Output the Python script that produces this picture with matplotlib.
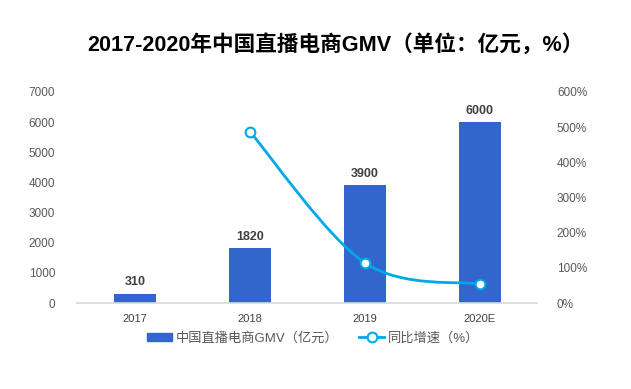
import matplotlib
matplotlib.use("Agg")
import matplotlib.pyplot as plt
from matplotlib.path import Path
from matplotlib.patches import PathPatch, Rectangle
from matplotlib.lines import Line2D
import numpy as np

plt.rcParams['font.family'] = ['Liberation Sans', 'Noto Sans CJK SC', 'DejaVu Sans']

categories = ['2017', '2018', '2019', '2020E']
gmv = [310, 1820, 3900, 6000]
growth_cats = ['2018', '2019', '2020E']
growth = [487, 114, 54]
left_ticks = [0, 1000, 2000, 3000, 4000, 5000, 6000, 7000]
right_ticks = [0, 100, 200, 300, 400, 500, 600]

bar_color = '#3366CC'
line_color = '#00A8E8'
tick_color = '#595959'

fig = plt.figure(figsize=(6.31, 3.89), dpi=100)
ax = fig.add_axes([0.1228, 0.221, 0.7290, 0.5425])
ax2 = ax.twinx()

x = np.arange(len(categories))
ax.bar(x, gmv, width=0.36, color=bar_color, zorder=2)
for xi, v in zip(x, gmv):
    ax.text(xi, v + 180, f'{v}', ha='center', va='bottom', fontsize=9,
            fontweight='bold', color='#404040')

ax.set_xlim(-0.5, len(categories) - 0.5)
ax.set_ylim(0, 7000)
ax.set_yticks(left_ticks)
ax.set_xticks(x)
ax.set_xticklabels(categories)
ax.tick_params(axis='y', length=0, labelsize=8.5, labelcolor=tick_color, pad=16)
ax.tick_params(axis='x', length=0, labelsize=8, labelcolor='#404040', pad=8)
for s in ['top', 'right', 'left']:
    ax.spines[s].set_visible(False)
ax.spines['bottom'].set_color('#D9D9D9')
ax.spines['bottom'].set_linewidth(1.2)

# growth line (smoothed, Catmull-Rom style bezier through data points)
gx = np.array([categories.index(c) for c in growth_cats], dtype=float)
gy = np.array(growth, dtype=float)
pts = np.column_stack([gx, gy])
verts = [tuple(pts[0])]
codes = [Path.MOVETO]
n = len(pts)
for i in range(n - 1):
    p0 = pts[i - 1] if i > 0 else pts[i]
    p1 = pts[i]
    p2 = pts[i + 1]
    p3 = pts[i + 2] if i + 2 < n else pts[i + 1]
    c1 = p1 + (p2 - p0) / 6.0
    c2 = p2 - (p3 - p1) / 6.0
    verts += [tuple(c1), tuple(c2), tuple(p2)]
    codes += [Path.CURVE4] * 3
path = Path(verts, codes)
ax2.add_patch(PathPatch(path, facecolor='none', edgecolor=line_color, lw=2, zorder=3))
ax2.plot(gx, gy, linestyle='none', marker='o', markersize=7, markerfacecolor='white',
         markeredgecolor=line_color, markeredgewidth=1.5, zorder=4)

ax2.set_ylim(0, 600)
ax2.set_yticks(right_ticks)
ax2.set_yticklabels([f'{t}%' for t in right_ticks])
ax2.tick_params(axis='y', length=0, labelsize=8.5, labelcolor=tick_color, pad=14)
for s in ['top', 'right', 'left', 'bottom']:
    ax2.spines[s].set_visible(False)

fig.text(0.531, 0.884, '2017-2020年中国直播电商GMV（单位：亿元，%）', ha='center', va='center',
         fontsize=15.6, fontweight='bold', color='#000000')

handles = [Rectangle((0, 0), 1, 1, color=bar_color),
           Line2D([], [], color=line_color, lw=2, marker='o', markersize=7,
                  markerfacecolor='white', markeredgecolor=line_color, markeredgewidth=1.5)]
labels = ['中国直播电商GMV（亿元）', '同比增速（%）']
leg = fig.legend(handles, labels, loc='center', bbox_to_anchor=(0.496, 0.130), ncol=2,
                 frameon=False, fontsize=9.5, handlelength=1.9, handleheight=0.6,
                 columnspacing=1.6, handletextpad=0.25)
for t in leg.get_texts():
    t.set_color(tick_color)

fig.savefig('out.png', dpi=100)
